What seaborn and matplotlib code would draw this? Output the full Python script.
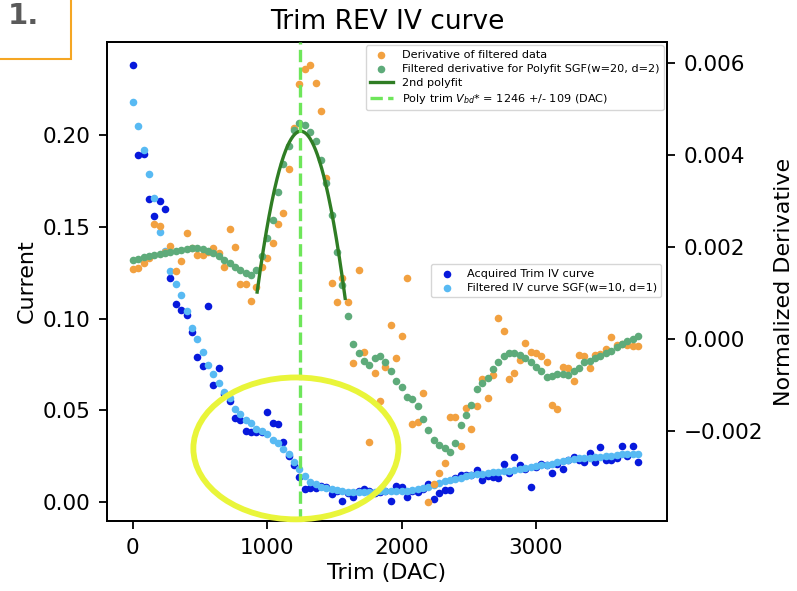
import numpy as np
import pandas as pd
import matplotlib
matplotlib.use("Agg")
import matplotlib.pyplot as plt
import seaborn as sns
from matplotlib.patches import Ellipse, Rectangle

# ---- data -------------------------------------------------------------
trim = list(range(0, 3761, 40))  # DAC sweep

current_raw = [0.238, 0.189, 0.190, 0.165, 0.156, 0.164, 0.160, 0.122, 0.108, 0.105,
               0.102, 0.093, 0.079, 0.074, 0.107, 0.064, 0.073, 0.059, 0.055, 0.046,
               0.045, 0.039, 0.038, 0.038, 0.038, 0.049, 0.043, 0.0425, 0.033, 0.025,
               0.020, 0.0136, 0.007, 0.0076, 0.0075, 0.009, 0.008, 0.0044, 0.006, 0.0005,
               0.005, 0.0027, 0.006, 0.007, 0.006, 0.005, 0.0055, 0.006, 0.0005, 0.0087,
               0.008, 0.0027, 0.006, 0.0055, 0.007, 0.010, 0.002, 0.005, 0.0065, 0.0065,
               0.013, 0.0147, 0.015, 0.0147, 0.0175, 0.012, 0.014, 0.0136, 0.013, 0.021,
               0.016, 0.0245, 0.020, 0.018, 0.008, 0.019, 0.021, 0.020, 0.016, 0.021,
               0.018, 0.023, 0.0245, 0.023, 0.022, 0.027, 0.022, 0.030, 0.023, 0.023,
               0.024, 0.0305, 0.025, 0.0305, 0.022]

current_filt = [0.218, 0.205, 0.192, 0.179, 0.166, 0.147, 0.137, 0.126, 0.119, 0.113,
                0.104, 0.095, 0.089, 0.082, 0.075, 0.070, 0.065, 0.060, 0.057, 0.051,
                0.048, 0.045, 0.043, 0.040, 0.039, 0.037, 0.034, 0.032, 0.029, 0.026,
                0.022, 0.018, 0.014, 0.011, 0.010, 0.008, 0.0075, 0.007, 0.0065, 0.006,
                0.0058, 0.0055, 0.0055, 0.0055, 0.0055, 0.0058, 0.006, 0.006, 0.0062, 0.0062,
                0.0062, 0.0062, 0.0065, 0.007, 0.0075, 0.0085, 0.0095, 0.0105, 0.0115, 0.012,
                0.0125, 0.013, 0.014, 0.0148, 0.0152, 0.0155, 0.016, 0.0163, 0.0166, 0.017,
                0.0172, 0.0176, 0.018, 0.0185, 0.019, 0.0195, 0.020, 0.0205, 0.021, 0.022,
                0.0225, 0.023, 0.0235, 0.024, 0.024, 0.0242, 0.0245, 0.0245, 0.025, 0.0252,
                0.0255, 0.026, 0.0262, 0.0265, 0.0265]

deriv = [0.00152, 0.00155, 0.00165, 0.00176, 0.0025, 0.00245, 0.0019, 0.00202, 0.00148, 0.0017,
         0.0023, 0.00198, 0.00183, 0.00183, 0.0019, 0.00198, 0.00187, 0.00157, 0.0024, 0.0020,
         0.0012, 0.0012, 0.00083, 0.00113, 0.00157, 0.00176, 0.0021, 0.0025, 0.00274, 0.0037,
         0.0046, 0.00554, 0.00587, 0.00596, 0.00557, 0.00496, 0.0035, 0.00122, 0.0008, 0.00133,
         0.0008, -0.00052, 0.0015, -0.00028, -0.00224, -0.00074, -0.00135, -0.0006, 0.0003, -0.0004,
         0.00007, 0.00133, -0.00185, -0.0018, -0.00117, -0.00354, -0.00315, -0.0029, -0.0027, -0.0017,
         -0.0017, -0.00233, -0.0015, -0.00196, -0.00146, -0.00087, -0.00128, -0.00078, 0.00046, 0.00017,
         -0.00087, -0.00074, -0.00046, -0.00009, -0.00028, -0.0003, -0.00037, -0.0005, -0.00143, -0.00152,
         -0.0006, -0.00063, -0.00091, -0.00035, -0.00037, -0.00063, -0.00035, -0.00033, -0.00022, 0.00004,
         -0.00013, -0.0001, -0.00013, -0.00015, -0.00015]

deriv_filt = [0.00172, 0.00175, 0.00178, 0.0018, 0.00182, 0.00185, 0.00187, 0.00189, 0.00191, 0.00193,
              0.00195, 0.00197, 0.00198, 0.00196, 0.00192, 0.00187, 0.0018, 0.00172, 0.00165, 0.00157,
              0.0015, 0.00143, 0.00139, 0.0015, 0.0018, 0.0022, 0.0026, 0.0032, 0.0038, 0.0042,
              0.00455, 0.0047, 0.00465, 0.0045, 0.0043, 0.0039, 0.0034, 0.0027, 0.0019, 0.00118,
              0.0005, -0.0001, -0.0003, -0.00048, -0.00057, -0.0004, -0.00037, -0.0005, -0.0007, -0.0009,
              -0.00104, -0.00126, -0.0013, -0.00146, -0.00174, -0.00198, -0.0022, -0.0023, -0.00237, -0.00245,
              -0.00226, -0.00187, -0.00165, -0.00143, -0.00109, -0.00096, -0.00085, -0.00065, -0.0005, -0.00037,
              -0.0003, -0.0003, -0.00035, -0.0004, -0.0005, -0.0006, -0.0007, -0.00083, -0.0008, -0.00076,
              -0.00076, -0.00078, -0.0007, -0.00063, -0.0005, -0.00048, -0.0004, -0.00037, -0.0003, -0.00026,
              -0.00017, -0.0001, -0.00004, 0.0, 0.00007]

fit_range = (920, 1560)
fit_draw = (925, 1580)
vbd = 1246
vbd_err = 109

# ---- figure -----------------------------------------------------------
plt.rcParams['font.family'] = ['DejaVu Sans']
fs = 15.5

fig = plt.figure(figsize=(7.97, 5.91), dpi=100)
ax = fig.add_axes([0.134, 0.118, 0.703, 0.811])
ax2 = ax.twinx()

df = pd.DataFrame({"trim": trim, "raw": current_raw, "filt": current_filt,
                   "d": deriv, "dfilt": deriv_filt})

c_raw = "#0719dc"
c_filt = "#58baf3"
c_der = "#f2a140"
c_dfilt = "#5eab7a"
c_fit = "#2f7d24"
c_vline = "#6ee65a"
ms = 30

sns.scatterplot(data=df, x="trim", y="raw", ax=ax, color=c_raw, s=ms, linewidth=0,
                label="Acquired Trim IV curve", zorder=2)
sns.scatterplot(data=df, x="trim", y="filt", ax=ax, color=c_filt, s=ms, linewidth=0,
                label="Filtered IV curve SGF(w=10, d=1)", zorder=3)

sns.scatterplot(data=df, x="trim", y="d", ax=ax2, color=c_der, s=ms, linewidth=0,
                label="Derivative of filtered data", zorder=2)
sns.scatterplot(data=df, x="trim", y="dfilt", ax=ax2, color=c_dfilt, s=ms, linewidth=0,
                label="Filtered derivative for Polyfit SGF(w=20, d=2)", zorder=3)

mask = (df["trim"] >= fit_range[0]) & (df["trim"] <= fit_range[1])
coef = np.polyfit(df.loc[mask, "trim"], df.loc[mask, "dfilt"], 2)
xf = np.linspace(fit_draw[0], fit_draw[1], 200)
fit_df = pd.DataFrame({"trim": xf, "fit": np.polyval(coef, xf)})
sns.lineplot(data=fit_df, x="trim", y="fit", ax=ax2, color=c_fit, lw=2.4,
             label="2nd polyfit", zorder=4)
ax2.axvline(vbd, color=c_vline, ls="--", lw=2.4,
            label=f"Poly trim $V_{{bd}}$* = {vbd} +/- {vbd_err} (DAC)", zorder=5)

ax.set_xlim(-194, 3976)
ax.set_ylim(-0.0104, 0.2508)
ax2.set_ylim(-0.00396, 0.00646)
ax.set_xticks([0, 1000, 2000, 3000])
ax.set_yticks([0.0, 0.05, 0.10, 0.15, 0.20])
ax2.set_yticks([-0.002, 0.0, 0.002, 0.004, 0.006])
ax.set_yticklabels(["0.00", "0.05", "0.10", "0.15", "0.20"])
ax2.set_yticklabels(["\u22120.002", "0.000", "0.002", "0.004", "0.006"])

for a in (ax, ax2):
    a.tick_params(labelsize=fs, length=6, width=1.3, pad=6)
    for s in a.spines.values():
        s.set_linewidth(1.3)

ax.set_xlabel("Trim (DAC)", fontsize=fs + 0.5)
ax.set_ylabel("Current", fontsize=fs + 0.5)
ax2.set_ylabel("Normalized Derivative", fontsize=fs + 0.5, labelpad=8)
ax.set_title("Trim REV IV curve", fontsize=19, pad=9)

ax2.legend(loc="upper right", fontsize=8.1, borderaxespad=0.3, labelspacing=0.35)
ax.legend(loc="upper right", bbox_to_anchor=(1.0, 0.548), fontsize=8.1, labelspacing=0.35)

ell = Ellipse((0.3375, 0.152), 0.366, 0.296, transform=ax2.transAxes, fill=False,
              edgecolor="#e9f53a", lw=4.2, clip_on=False, zorder=20)
ax2.add_patch(ell)

fig.add_artist(Rectangle((-0.01, 1 - 58.7 / 591), 70.7 / 797 + 0.01, 0.2,
                         transform=fig.transFigure, fill=False,
                         edgecolor="#f5a623", lw=1.5))
fig.text(0.010, 1 - 24 / 591, "1.", fontsize=21, fontweight="bold",
         color="#5a5a5a", va="baseline")

fig.savefig("out.png", dpi=100)
